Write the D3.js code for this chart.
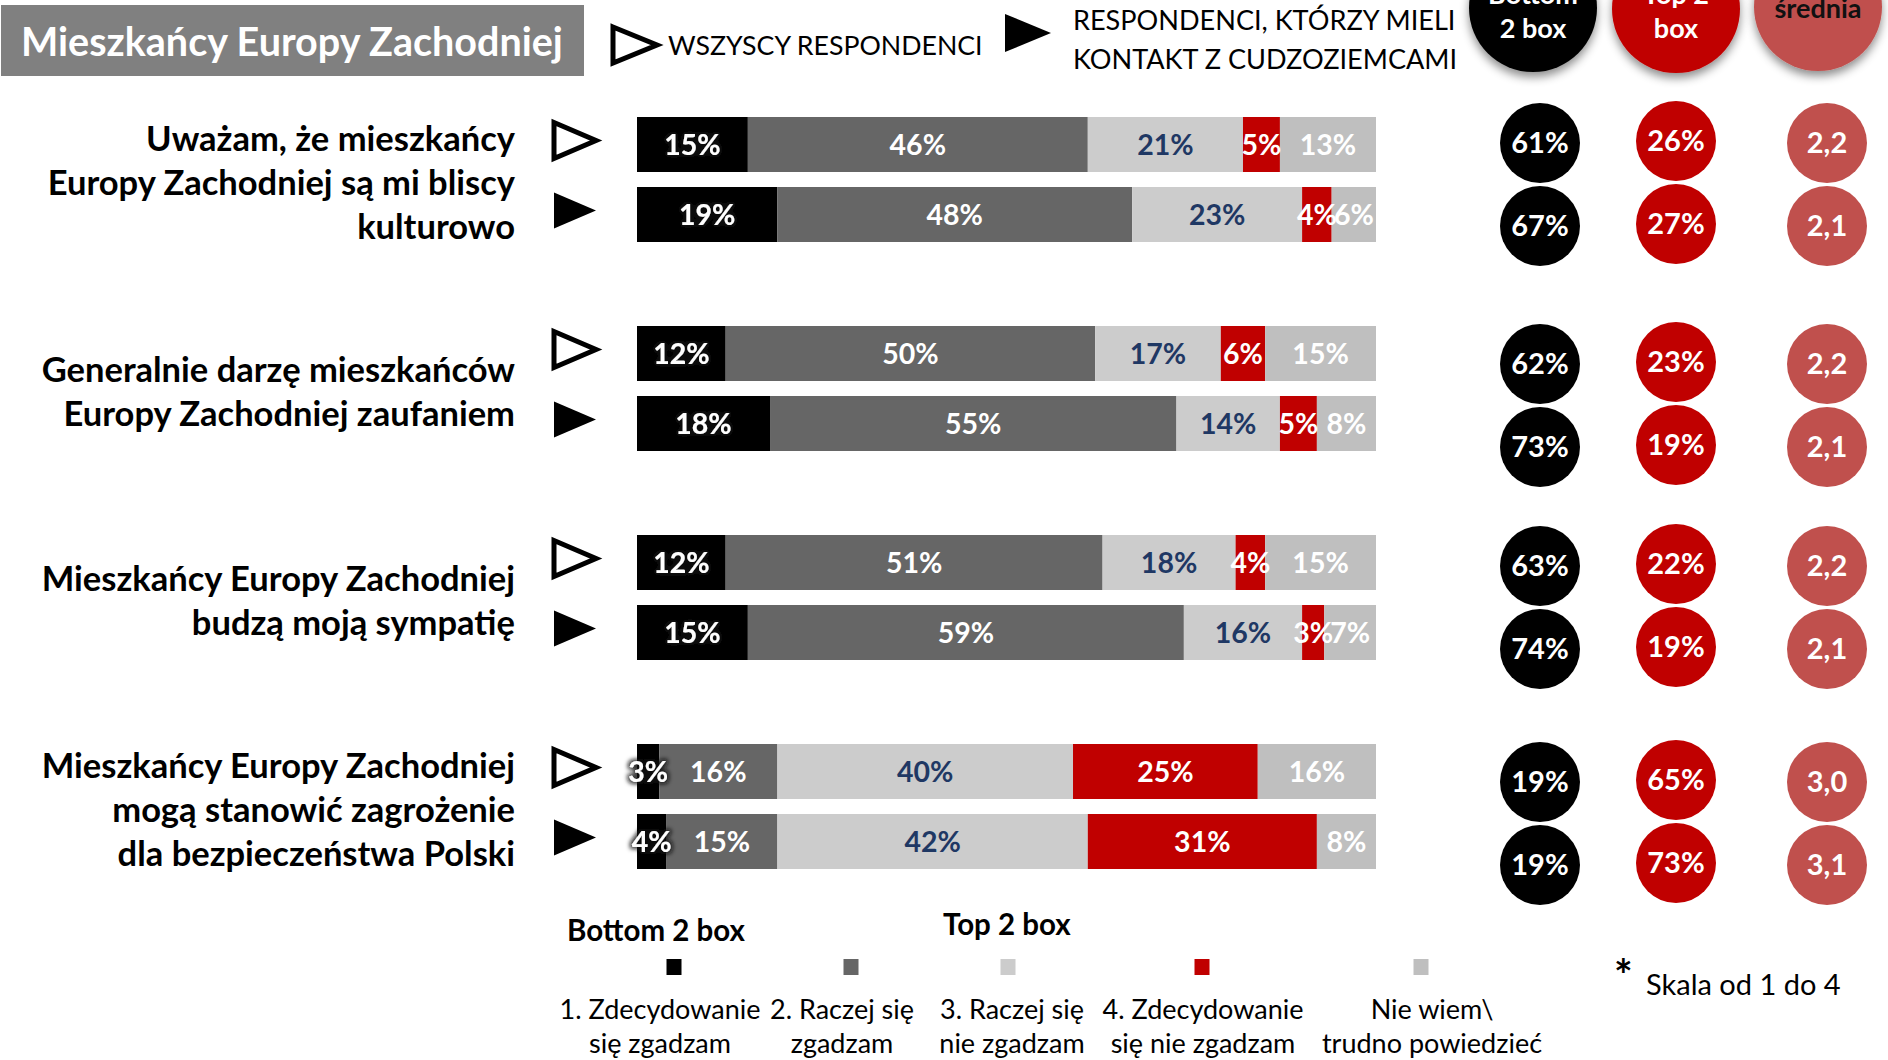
<!DOCTYPE html>
<html><head><meta charset="utf-8">
<script src="https://cdn.jsdelivr.net/npm/d3@7"></script>
<style>
html,body{margin:0;padding:0;background:#fff;}
svg{display:block;font-family:Lato,"Open Sans",sans-serif;}
</style></head>
<body><svg id="c" width="1888" height="1060"></svg>
<script>
// ---------- DATA ----------
const statements = [
  ["Uważam, że mieszkańcy", "Europy Zachodniej są mi bliscy", "kulturowo"],
  ["Generalnie darzę mieszkańców", "Europy Zachodniej zaufaniem"],
  ["Mieszkańcy Europy Zachodniej", "budzą moją sympatię"],
  ["Mieszkańcy Europy Zachodniej", "mogą stanowić zagrożenie", "dla bezpieczeństwa Polski"]
];
const respondentGroups = ["WSZYSCY RESPONDENCI", "RESPONDENCI, KTÓRZY MIELI KONTAKT Z CUDZOZIEMCAMI"];
const answerCategories = ["1. Zdecydowanie się zgadzam", "2. Raczej się zgadzam", "3. Raczej się nie zgadzam", "4. Zdecydowanie się nie zgadzam", "Nie wiem\\ trudno powiedzieć"];
// values per statement: [all respondents, with contact], each 5 categories in %
const valuesAll     = [[15,46,21,5,13],[12,50,17,6,15],[12,51,18,4,15],[3,16,40,25,16]];
const valuesContact = [[19,48,23,4,6],[18,55,14,5,8],[15,59,16,3,7],[4,15,42,31,8]];
const bottom2All     = [61,62,63,19];
const bottom2Contact = [67,73,74,19];
const top2All        = [26,23,22,65];
const top2Contact    = [27,19,19,73];
const meanAll        = ["2,2","2,2","2,2","3,0"];
const meanContact    = ["2,1","2,1","2,1","3,1"];
const summaryHeaders = [["Bottom","2 box"],["Top 2","box"],["średnia"]];

// ---------- STYLE / LAYOUT ----------
const segColors = ["#000000","#666666","#CCCCCC","#C00000","#BFBFBF"];
const segText   = ["#ffffff","#ffffff","#1F3864","#ffffff","#ffffff"];
const svg = d3.select("#c");
const defs = svg.append("defs");
const sh = defs.append("filter").attr("id","shadow").attr("x","-30%").attr("y","-30%").attr("width","160%").attr("height","170%");
sh.append("feDropShadow").attr("dx",0).attr("dy",5).attr("stdDeviation",5).attr("flood-color","#000").attr("flood-opacity",0.45);
const gl = defs.append("filter").attr("id","glow").attr("x","-30%").attr("y","-30%").attr("width","160%").attr("height","160%");
gl.append("feMorphology").attr("in","SourceAlpha").attr("operator","dilate").attr("radius",1.5).attr("result","d");
gl.append("feGaussianBlur").attr("in","d").attr("stdDeviation",2).attr("result","b");
gl.append("feFlood").attr("flood-color","#111").attr("flood-opacity",0.85);
gl.append("feComposite").attr("in2","b").attr("operator","in").attr("result","s");
const gm = gl.append("feMerge"); gm.append("feMergeNode").attr("in","s"); gm.append("feMergeNode").attr("in","SourceGraphic");

const x = d3.scaleLinear().domain([0,100]).range([637,1376]);
const groupY = d3.scaleLinear().domain([0,3]).range([117,744]);
const barH = 55, rowStep = 70;
const circleY = [143,364,566,782], circleRowStep = 83, circleR = 40;
const colX = d3.scaleOrdinal().domain(["b2","t2","m"]).range([1540,1676,1827]);

// ---------- HEADER ----------
svg.append("rect").attr("x",1).attr("y",5).attr("width",583).attr("height",71).attr("fill","#808080");
svg.append("text").attr("x",21).attr("y",42).attr("dy","0.36em").attr("fill","#fff")
  .attr("font-weight",700).attr("font-size",39.5).text("Mieszkańcy Europy Zachodniej");

function tri(g, cx, cy, w, h, filled, sw){
  g.append("path")
   .attr("d", `M${cx-w/2},${cy-h/2} L${cx+w/2},${cy} L${cx-w/2},${cy+h/2} Z`)
   .attr("fill", filled ? "#000" : "#fff")
   .attr("stroke", "#000").attr("stroke-width", filled ? 0 : sw).attr("stroke-linejoin","miter");
}
tri(svg, 635, 45, 44, 36, false, 5);
svg.append("text").attr("x",668).attr("y",45).attr("dy","0.36em").attr("font-size",26.7).attr("fill","#000").text(respondentGroups[0]);
tri(svg, 1028, 33, 46, 38, true, 0);
const rl = respondentGroups[1].split(" KONTAKT");
svg.append("text").attr("x",1073).attr("y",20).attr("dy","0.36em").attr("font-size",27.1).text(rl[0]);
svg.append("text").attr("x",1073).attr("y",59).attr("dy","0.36em").attr("font-size",27.1).text("KONTAKT" + rl[1]);

const hdrFill = ["#000000","#C00000","#C0504D"];
const hdrText = ["#ffffff","#ffffff","#111111"];
const hdrCY = [8,9,7];
["b2","t2","m"].forEach((k,i)=>{
  svg.append("circle").attr("cx",colX(k)-(i===2?9:0)+(i===0?-7:0)).attr("cy",hdrCY[i]).attr("r",64)
    .attr("fill",hdrFill[i]).attr("filter","url(#shadow)");
});
const hdrTextX = [1533,1676,1818];
summaryHeaders.forEach((lines,i)=>{
  const t = svg.append("text").attr("text-anchor","middle").attr("font-weight",700).attr("font-size",27).attr("fill",hdrText[i]);
  if(lines.length===2){
    t.append("tspan").attr("x",hdrTextX[i]).attr("y",4).text(lines[0]);
    t.append("tspan").attr("x",hdrTextX[i]).attr("y",38).text(lines[1]);
  } else {
    t.append("tspan").attr("x",hdrTextX[i]).attr("y",18).text(lines[0]);
  }
});

// ---------- ROWS ----------
statements.forEach((lines,gi)=>{
  const y0 = groupY(gi);
  const pairC = y0 + (rowStep + barH)/2 + 3;
  const lh = 44;
  const t = svg.append("text").attr("text-anchor","end").attr("font-weight",700).attr("font-size",34.5).attr("fill","#000");
  lines.forEach((ln,li)=>{
    t.append("tspan").attr("x",515).attr("y", pairC + (li-(lines.length-1)/2)*lh).attr("dy","0.36em").text(ln);
  });
  [valuesAll[gi], valuesContact[gi]].forEach((vals,ri)=>{
    const yy = y0 + ri*rowStep;
    tri(svg, 575, yy + barH/2 - 4, 42, 36, ri===1, 5);
    let cum = 0;
    const segs = vals.map((v,si)=>{ const s={v,si,start:cum}; cum+=v; return s; });
    const g = svg.append("g");
    g.selectAll("rect").data(segs).join("rect")
      .attr("x",d=>x(d.start)).attr("y",yy).attr("width",d=>x(d.start+d.v)-x(d.start)).attr("height",barH)
      .attr("fill",d=>segColors[d.si]);
    g.selectAll("text").data(segs).join("text")
      .attr("x",d=>(x(d.start)+x(d.start+d.v))/2).attr("y",yy+barH/2).attr("dy","0.36em")
      .attr("text-anchor","middle").attr("font-weight",700).attr("font-size",28.5)
      .attr("fill",d=>segText[d.si])
      .attr("filter",d=>d.si===0?"url(#glow)":null)
      .text(d=>d.v+"%");
  });
  // summary circles
  const circ = [
    ["b2","#000000",[bottom2All[gi]+"%", bottom2Contact[gi]+"%"],0],
    ["t2","#C00000",[top2All[gi]+"%", top2Contact[gi]+"%"],-2],
    ["m","#C0504D",[meanAll[gi], meanContact[gi]],0]
  ];
  circ.forEach(([k,col,vals,off])=>{
    vals.forEach((v,ri)=>{
      const cy = circleY[gi] + ri*circleRowStep + off;
      svg.append("circle").attr("cx",colX(k)).attr("cy",cy).attr("r",circleR).attr("fill",col);
      svg.append("text").attr("x",colX(k)).attr("y",cy).attr("dy","0.36em").attr("text-anchor","middle")
        .attr("font-weight",700).attr("font-size",29).attr("fill","#fff").text(v);
    });
  });
});

// ---------- LEGEND ----------
svg.append("text").attr("x",567).attr("y",930).attr("dy","0.36em").attr("font-weight",700).attr("font-size",29.5).text("Bottom 2 box");
svg.append("text").attr("x",943).attr("y",924).attr("dy","0.36em").attr("font-weight",700).attr("font-size",29.5).text("Top 2 box");
const legSqX = [674,851,1008,1202,1421];
const legTxtX = [660,842,1012,1203,1432];
const legSplit = [["1. Zdecydowanie","się zgadzam"],["2. Raczej się","zgadzam"],["3. Raczej się","nie zgadzam"],["4. Zdecydowanie","się nie zgadzam"],["Nie wiem\\","trudno powiedzieć"]];
answerCategories.forEach((c,i)=>{
  svg.append("rect").attr("x",legSqX[i]-7.5).attr("y",959).attr("width",15).attr("height",16).attr("fill",segColors[i]);
  const t = svg.append("text").attr("text-anchor","middle").attr("font-size",27).attr("fill","#000");
  legSplit[i].forEach((ln,li)=>{
    t.append("tspan").attr("x",legTxtX[i]).attr("y",1009+li*34).attr("dy","0.36em").text(ln);
  });
});
svg.append("text").attr("x",1614).attr("y",991).attr("font-weight",700).attr("font-size",44).text("*");
svg.append("text").attr("x",1646).attr("y",985).attr("dy","0.36em").attr("font-size",29).text("Skala od 1 do 4");
</script></body></html>
